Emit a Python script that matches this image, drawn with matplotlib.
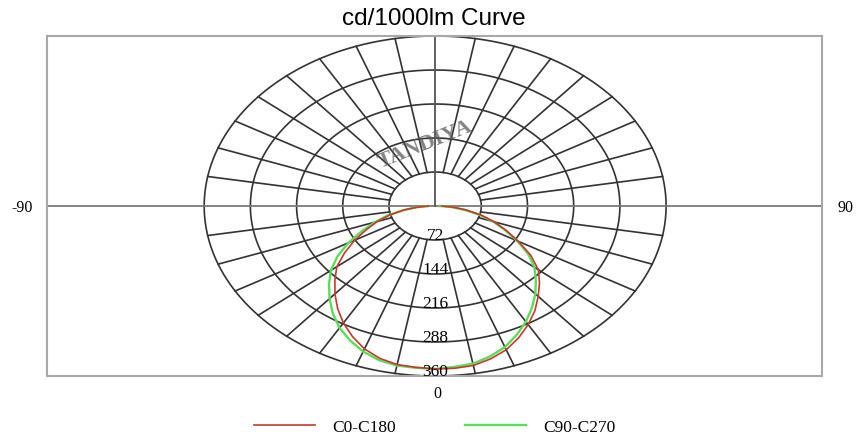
import numpy as np
import matplotlib
matplotlib.use("Agg")
import matplotlib.pyplot as plt

# angles in degrees, 0 = straight down, -90 left, 90 right
angles = [-90, -85, -80, -75, -70, -65, -60, -55, -50, -45, -40, -35, -30, -25, -20, -15, -10, -5,
          0, 5, 10, 15, 20, 25, 30, 35, 40, 45, 50, 55, 60, 65, 70, 75, 80, 85, 90]

# cd/1000lm values
c0_c180 = [10, 28, 50, 73, 96, 118, 145, 172, 200, 221, 243, 265, 286, 305, 322, 334, 341, 343,
           345, 345, 343, 335, 324, 308, 290, 271, 250, 230, 210, 182, 150, 122, 98, 74, 50, 28, 10]
c90_c270 = [10, 28, 50, 76, 100, 126, 156, 186, 212, 234, 256, 278, 298, 314, 328, 338, 343, 344,
            345, 342, 339, 330, 318, 301, 283, 263, 243, 222, 202, 177, 148, 120, 96, 72, 46, 25, 8]

ring_values = [72, 144, 216, 288, 360]
spoke_step = 10

fig = plt.figure(figsize=(8.57, 4.39), dpi=100)
ax = fig.add_axes([47 / 857, 62 / 439, 775 / 857, 340 / 439])
ax.set_xlim(-605, 603)
ax.set_ylim(-360, 360)
ax.set_xticks([])
ax.set_yticks([])
for s in ax.spines.values():
    s.set_color("#a8a8a8")
    s.set_linewidth(1.5)

grid_c = "#333333"

# rings
t = np.linspace(0, 2 * np.pi, 400)
for r in ring_values:
    ax.plot(r * np.cos(t), r * np.sin(t), color=grid_c, lw=1.2, zorder=1)

# spokes
r0, r1 = ring_values[0], ring_values[-1]
for a in range(-170, 180, spoke_step):
    if a in (0, -90, 90):
        continue
    th = np.radians(a)
    ax.plot([r0 * np.sin(th), r1 * np.sin(th)], [-r0 * np.cos(th), -r1 * np.cos(th)],
            color=grid_c, lw=1.2, zorder=1)

# axes lines
ax.axhline(0, color="#7a7a7a", lw=1.3, zorder=1)
ax.plot([0, 0], [0, 360], color="#555555", lw=1.3, zorder=1)

# watermark
ax.text(-15, 132, "TANDIYA", rotation=22, ha="center", va="center", fontsize=16,
        fontweight="bold", color="#5a5a5a", alpha=0.75, family="Liberation Serif", zorder=2)

# curves
th = np.radians(angles)
g = np.array(c90_c270)
rd = np.array(c0_c180)
ax.plot(g * np.sin(th), -g * np.cos(th), color="#5ade5a", lw=1.7, label="C90-C270", zorder=3)
ax.plot(rd * np.sin(th), -rd * np.cos(th), color="#c8382e", lw=1.2, label="C0-C180", zorder=4)

serif = "Liberation Serif"
for r in ring_values:
    ax.text(0, -r + 10, str(r), ha="center", va="center", fontsize=12.5, family=serif, zorder=5)

fig.text(22 / 857, 1 - 208 / 439, "-90", ha="center", va="center", fontsize=11.5, family=serif)
fig.text(845 / 857, 1 - 208 / 439, "90", ha="center", va="center", fontsize=11.5, family=serif)
fig.text(437 / 857, 1 - 394 / 439, "0", ha="center", va="center", fontsize=11.5, family=serif)

fig.text(434 / 857, 1 - 19 / 439, "cd/1000lm Curve", ha="center", va="center", fontsize=17.5,
         family="Liberation Sans")

h, l = ax.get_legend_handles_labels()
fig.legend([h[1], h[0]], [l[1], l[0]], loc="center", bbox_to_anchor=(435 / 857, 1 - 428 / 439),
           ncol=2, frameon=False, prop={"family": serif, "size": 12.5},
           handlelength=3.5, handletextpad=1.0, columnspacing=4.0)

fig.savefig("out.png", dpi=100)
